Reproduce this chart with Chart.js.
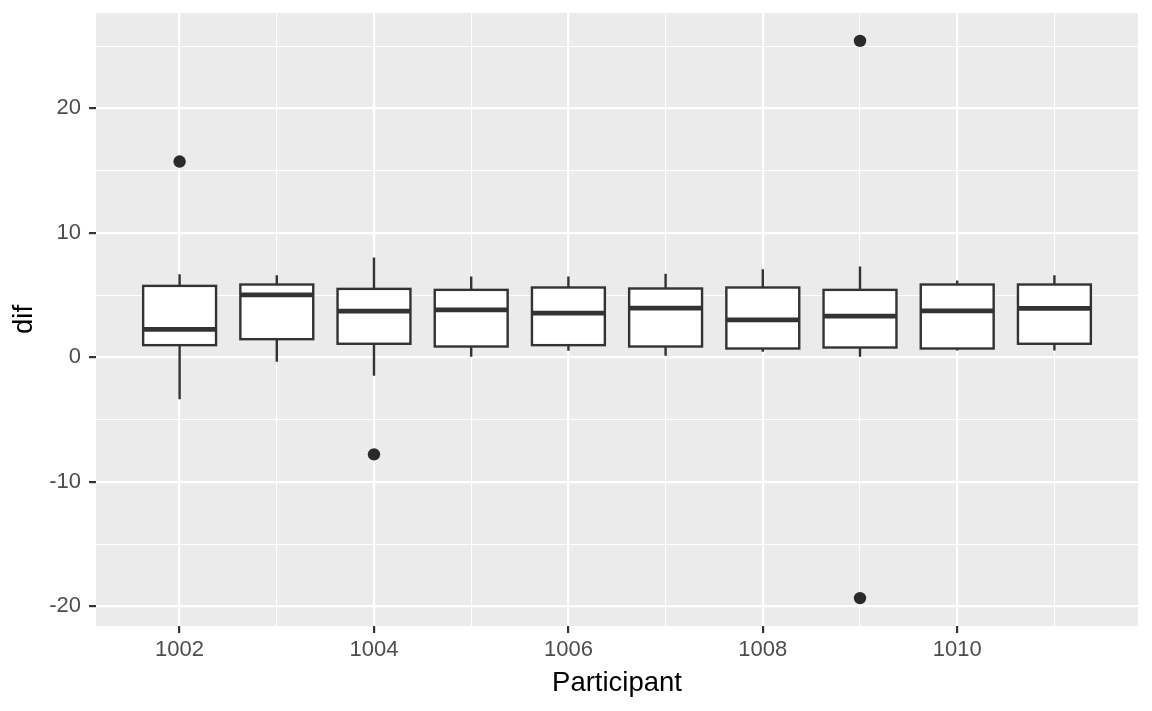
<!DOCTYPE html>
<html>
<head>
<meta charset="utf-8">
<script src="https://cdn.jsdelivr.net/npm/chart.js@4/dist/chart.umd.min.js"></script>
<style>
  html, body { margin: 0; padding: 0; background: #ffffff; }
  #wrap { width: 1152px; height: 711px; }
</style>
</head>
<body>
<div id="wrap"><canvas id="boites" width="1152" height="711"></canvas></div>
<script>
// one box per participant
const participants = [1002, 1003, 1004, 1005, 1006, 1007, 1008, 1009, 1010, 1011];
const q1 = [0.98, 1.46, 1.09, 0.87, 0.98, 0.87, 0.71, 0.79, 0.71, 1.09];
const medians = [2.24, 5.02, 3.71, 3.82, 3.55, 3.95, 3.01, 3.31, 3.74, 3.93];
const q3 = [5.74, 5.85, 5.50, 5.42, 5.61, 5.53, 5.61, 5.42, 5.85, 5.85];
const whiskerLow = [-3.36, -0.36, -1.48, 0.04, 0.52, 0.12, 0.44, 0.04, 0.55, 0.55];
const whiskerHigh = [6.68, 6.60, 8.02, 6.50, 6.50, 6.71, 7.08, 7.30, 6.17, 6.60];
// outliers
const outlierX = [1002, 1004, 1009, 1009];
const outlierY = [15.73, -7.79, 25.42, -19.34];
// axes
const xTicks = [1002, 1004, 1006, 1008, 1010];
const xMinor = [1003, 1005, 1007, 1009, 1011];
const yTicks = [-20, -10, 0, 10, 20];
const yMinor = [-15, -5, 5, 15, 25];
const boxWidth = 0.75;

const INK = '#333333';
const FONT = "'Liberation Sans', Arial, Helvetica, sans-serif";

// fond gris du panneau
const panelBg = {
  id: 'panelBg',
  beforeDraw(chart) {
    const { ctx, chartArea: a } = chart;
    ctx.save();
    ctx.fillStyle = '#EBEBEB';
    ctx.fillRect(a.left, a.top, a.right - a.left, a.bottom - a.top);
    ctx.restore();
  }
};

// boîtes à moustaches, dessinées avec les échelles du graphique
const boxes = {
  id: 'boxes',
  beforeDatasetsDraw(chart) {
    const { ctx, scales: { x, y } } = chart;
    ctx.save();
    for (let i = 0; i < participants.length; i++) {
      const cx = x.getPixelForValue(participants[i]);
      const left = x.getPixelForValue(participants[i] - boxWidth / 2);
      const right = x.getPixelForValue(participants[i] + boxWidth / 2);
      const top = y.getPixelForValue(q3[i]);
      const bottom = y.getPixelForValue(q1[i]);
      // moustaches
      ctx.strokeStyle = INK;
      ctx.lineWidth = 2.4;
      ctx.beginPath();
      ctx.moveTo(cx, y.getPixelForValue(whiskerHigh[i]));
      ctx.lineTo(cx, top);
      ctx.moveTo(cx, bottom);
      ctx.lineTo(cx, y.getPixelForValue(whiskerLow[i]));
      ctx.stroke();
      // boîte
      ctx.fillStyle = '#ffffff';
      ctx.fillRect(left, top, right - left, bottom - top);
      ctx.strokeRect(left, top, right - left, bottom - top);
      // médiane
      const m = y.getPixelForValue(medians[i]);
      ctx.lineWidth = 4.8;
      ctx.beginPath();
      ctx.moveTo(left, m);
      ctx.lineTo(right, m);
      ctx.stroke();
    }
    ctx.restore();
  }
};

const isMajor = (list, v) => list.includes(v);

new Chart(document.getElementById('boites').getContext('2d'), {
  type: 'scatter',
  data: {
    datasets: [{
      label: 'outliers',
      data: outlierX.map((v, i) => ({ x: v, y: outlierY[i] })),
      pointRadius: 6.2,
      pointBackgroundColor: '#2a2a2a',
      pointBorderWidth: 0,
      pointHoverRadius: 6.2
    }]
  },
  options: {
    responsive: false,
    animation: false,
    devicePixelRatio: 1,
    layout: { padding: { top: 13, right: 14, left: 0, bottom: 0 } },
    plugins: {
      legend: { display: false },
      tooltip: { enabled: false }
    },
    scales: {
      x: {
        type: 'linear',
        min: 1001.14,
        max: 1011.86,
        afterBuildTicks: s => { s.ticks = xTicks.concat(xMinor).sort((a, b) => a - b).map(v => ({ value: v })); },
        afterFit: s => { s.height = 85; s.paddingLeft = 0; s.paddingRight = 0; },
        border: { display: false },
        grid: {
          color: '#ffffff',
          lineWidth: c => isMajor(xTicks, c.tick.value) ? 2.2 : 1.1,
          tickColor: c => isMajor(xTicks, c.tick.value) ? INK : 'rgba(0,0,0,0)',
          tickLength: 7,
          tickWidth: 2.2
        },
        ticks: {
          autoSkip: false,
          maxRotation: 0,
          padding: 4,
          color: '#4D4D4D',
          font: { family: FONT, size: 22 },
          callback: v => isMajor(xTicks, v) ? String(v) : ''
        },
        title: {
          display: true,
          text: 'Participant',
          color: '#000000',
          font: { family: FONT, size: 27.5 },
          padding: { top: 0, bottom: 11 }
        }
      },
      y: {
        type: 'linear',
        min: -21.58,
        max: 27.66,
        afterBuildTicks: s => { s.ticks = yTicks.concat(yMinor).sort((a, b) => a - b).map(v => ({ value: v })); },
        afterFit: s => { s.width = 96; s.paddingTop = 0; s.paddingBottom = 0; },
        border: { display: false },
        grid: {
          color: '#ffffff',
          lineWidth: c => isMajor(yTicks, c.tick.value) ? 2.2 : 1.1,
          tickColor: c => isMajor(yTicks, c.tick.value) ? INK : 'rgba(0,0,0,0)',
          tickLength: 7,
          tickWidth: 2.2
        },
        ticks: {
          autoSkip: false,
          padding: 8,
          color: '#4D4D4D',
          font: { family: FONT, size: 22 },
          callback: v => isMajor(yTicks, v) ? String(v) : ''
        },
        title: {
          display: true,
          text: 'dif',
          color: '#000000',
          font: { family: FONT, size: 27.5 },
          padding: { top: 8, bottom: 0 }
        }
      }
    }
  },
  plugins: [panelBg, boxes]
});
</script>
</body>
</html>
